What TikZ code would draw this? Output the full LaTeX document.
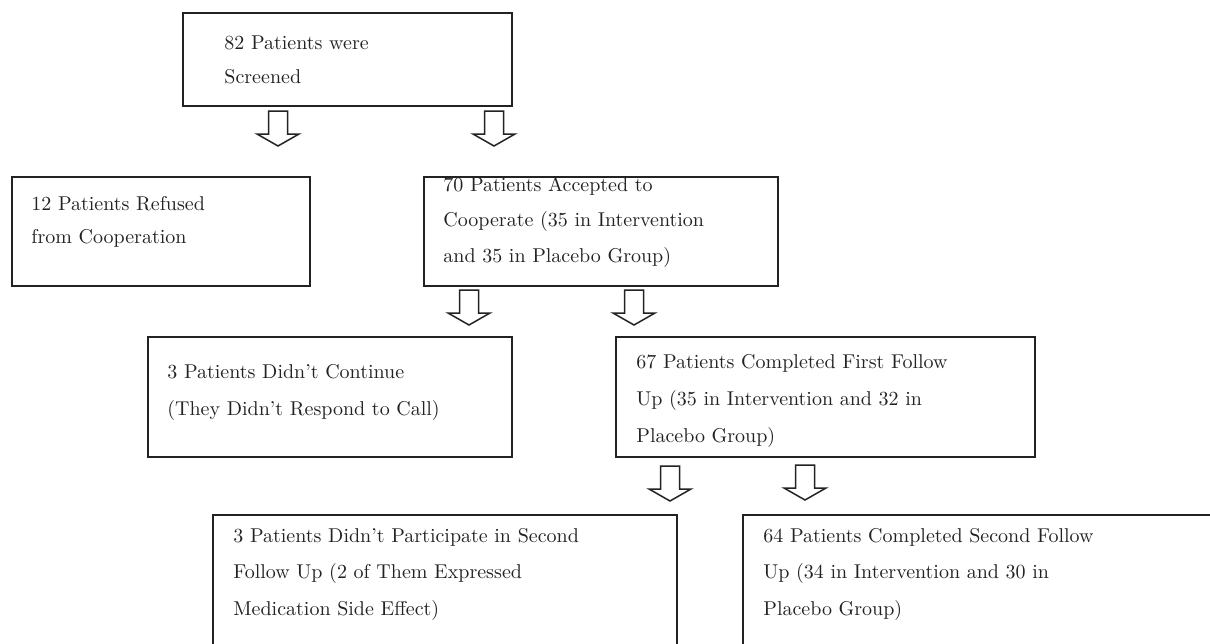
\documentclass[tikz,border=0pt]{standalone}
\usetikzlibrary{fit}
\definecolor{ink}{HTML}{222222}
\tikzset{
  box/.style={draw=ink, line width=1pt, inner sep=0pt, rectangle},
  txt/.style={anchor=base west, align=left, inner sep=0pt, text=ink},
  barrow/.pic={\draw[ink, line width=0.75pt, line join=miter, fill=white]
     (-9.5,-35) -- (9.5,-35) -- (9.5,-12) -- (21,-12) -- (0,0) -- (-21,-12) -- (-9.5,-12) -- cycle;}
}
\begin{document}
\begin{tikzpicture}[x=0.5pt, y=-0.5pt]
\path[use as bounding box] (0,0) rectangle (1210,643);
\clip (0,0) rectangle (1210,643);
% boxes
\node[box, fit={(183,13) (512,106)}] (b1) {};
\node[box, fit={(12,177) (310,286)}] (b2) {};
\node[box, fit={(424,177) (778,286)}] (b3) {};
\node[box, fit={(148,337) (512,457)}] (b4) {};
\node[box, fit={(616,337) (1035,457)}] (b5) {};
\node[box, fit={(213,515) (677,680)}] (b6) {};
\node[box, fit={(743,515) (1240,680)}] (b7) {};
% texts (anchored at baseline of the last line)
\node[txt, font=\fontsize{10}{17}\selectfont] (t1) at (224,83) {82 Patients were\\Screened};
\node[txt, font=\fontsize{10}{16.5}\selectfont] (t2) at (31,243) {12 Patients Refused\\from Cooperation};
\node[txt, font=\fontsize{10}{17.75}\selectfont] (t3) at (443,262) {70 Patients Accepted to\\Cooperate (35 in Intervention\\and 35 in Placebo Group)};
\node[txt, font=\fontsize{10}{18.5}\selectfont] (t4) at (167,415) {3 Patients Didn't Continue\\(They Didn't Respond to Call)};
\node[txt, font=\fontsize{10}{18.5}\selectfont] (t5) at (636,442) {67 Patients Completed First Follow\\Up (35 in Intervention and 32 in\\Placebo Group)};
\node[txt, font=\fontsize{10}{18.25}\selectfont] (t6) at (233,615) {3 Patients Didn't Participate in Second\\Follow Up (2 of Them Expressed\\Medication Side Effect)};
\node[txt, font=\fontsize{10}{18.25}\selectfont] (t7) at (763,615) {64 Patients Completed Second Follow\\Up (34 in Intervention and 30 in\\Placebo Group)};
% block arrows (tips)
\coordinate (a1) at (278,146);
\coordinate (a2) at (494,146);
\coordinate (a3) at (469,325);
\coordinate (a4) at (634,325);
\coordinate (a5) at (670,501);
\coordinate (a6) at (805,500);
\foreach \a in {a1,a2,a3,a4,a5,a6} \pic at (\a) {barrow};
\end{tikzpicture}
\end{document}
